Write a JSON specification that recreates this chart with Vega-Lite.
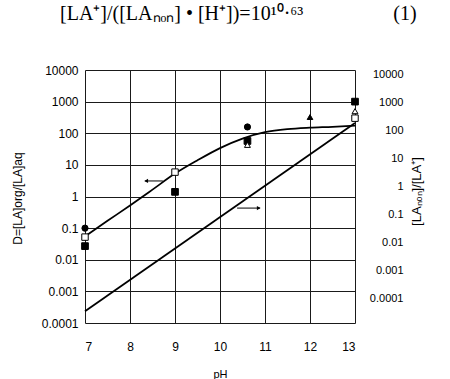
{
  "$schema": "https://vega.github.io/schema/vega-lite/v6.json",
  "width": 270,
  "height": 253,
  "autosize": "none",
  "padding": {"left": 85, "top": 70, "right": 95, "bottom": 56},
  "background": "white",
  "config": {"view": {"stroke": null}, "font": "Liberation Sans"},
  "title": {
    "text": "[LA⁺]/([LAₙₒₙ] • [H⁺])=10¹⁰·⁶³\u00a0\u00a0\u00a0\u00a0\u00a0\u00a0\u00a0\u00a0\u00a0\u00a0\u00a0\u00a0\u00a0\u00a0\u00a0\u00a0\u00a0\u00a0(1)",
    "font": "Liberation Serif",
    "fontSize": 20,
    "fontWeight": "normal",
    "anchor": "start",
    "frame": "group",
    "dx": -25,
    "offset": 24,
    "baseline": "alphabetic",
    "color": "black"
  },
  "datasets": {
    "curve": [
      {"pH": 7, "value": 0.055},
      {"pH": 7.5, "value": 0.17},
      {"pH": 8, "value": 0.52},
      {"pH": 8.5, "value": 1.65},
      {"pH": 9, "value": 5.3},
      {"pH": 9.5, "value": 14},
      {"pH": 10, "value": 34},
      {"pH": 10.5, "value": 68},
      {"pH": 11, "value": 108},
      {"pH": 11.5, "value": 135},
      {"pH": 12, "value": 150},
      {"pH": 12.5, "value": 160},
      {"pH": 13, "value": 175}
    ],
    "ratio": [
      {"pH": 7, "ratio": 0.0000345},
      {"pH": 13, "ratio": 189}
    ],
    "points": [
      {"pH": 7, "value": 0.1, "series": "filled circle"},
      {"pH": 10.61, "value": 158, "series": "filled circle"},
      {"pH": 7, "value": 0.052, "series": "open square"},
      {"pH": 9, "value": 5.9, "series": "open square"},
      {"pH": 13, "value": 300, "series": "open square"},
      {"pH": 7, "value": 0.027, "series": "filled square"},
      {"pH": 9, "value": 1.4, "series": "filled square"},
      {"pH": 10.61, "value": 57, "series": "filled square"},
      {"pH": 13, "value": 1000, "series": "filled square"},
      {"pH": 10.61, "value": 43, "series": "open triangle"},
      {"pH": 13, "value": 500, "series": "open triangle"},
      {"pH": 12, "value": 325, "series": "filled triangle"}
    ],
    "arrows": [
      {"pH": 8.33, "pH2": 8.73, "value": 3.1, "dir": "left"},
      {"pH": 10.38, "pH2": 10.89, "value": 0.43, "dir": "right"}
    ],
    "heads": [
      {"pH": 8.36, "value": 3.1, "dir": "left"},
      {"pH": 10.86, "value": 0.43, "dir": "right"}
    ]
  },
  "encoding": {
    "x": {
      "field": "pH",
      "type": "quantitative",
      "scale": {"domain": [7, 13], "nice": false, "zero": false},
      "axis": {
        "values": [7, 8, 9, 10, 11, 12, 13],
        "title": "pH",
        "grid": true,
        "gridColor": "#1a1a1a",
        "gridOpacity": 1,
        "gridWidth": 1,
        "ticks": false,
        "domain": false,
        "labelPadding": 18,
        "labelFontSize": 12,
        "labelColor": "black",
        "titleFontSize": 11,
        "titleFontWeight": "normal",
        "titleColor": "black",
        "titleY": 51,
        "titleBaseline": "middle"
      }
    }
  },
  "layer": [
    {
      "encoding": {
        "y": {
          "field": "value",
          "type": "quantitative",
          "scale": {"type": "log", "domain": [0.0001, 10000], "nice": false},
          "axis": {
            "values": [0.0001, 0.001, 0.01, 0.1, 1, 10, 100, 1000, 10000],
            "format": "~g",
            "title": "D=[LA]org/[LA]aq",
            "grid": true,
            "gridColor": "#1a1a1a",
            "gridOpacity": 1,
            "gridWidth": 1,
            "ticks": false,
            "domain": false,
            "labelPadding": 7,
            "labelFontSize": 12,
            "labelColor": "black",
            "titleFontSize": 12,
            "titleFontWeight": "normal",
            "titleColor": "black",
            "titleX": -68,
            "titleY": 128,
            "titleAngle": 270,
            "titleAlign": "center",
            "titleBaseline": "middle"
          }
        }
      },
      "layer": [
        {
          "data": {"name": "curve"},
          "mark": {"type": "line", "color": "black", "strokeWidth": 1.8, "interpolate": "monotone"}
        },
        {
          "data": {"name": "arrows"},
          "mark": {"type": "rule", "color": "black", "strokeWidth": 1},
          "encoding": {"x2": {"field": "pH2"}}
        },
        {
          "data": {"name": "heads"},
          "transform": [{"filter": "datum.dir === 'left'"}],
          "mark": {"type": "point", "shape": "triangle-left", "filled": true, "color": "black", "opacity": 1, "size": 18}
        },
        {
          "data": {"name": "heads"},
          "transform": [{"filter": "datum.dir === 'right'"}],
          "mark": {"type": "point", "shape": "triangle-right", "filled": true, "color": "black", "opacity": 1, "size": 18}
        },
        {
          "data": {"name": "points"},
          "mark": {"type": "point", "filled": true, "stroke": "black", "strokeWidth": 1, "opacity": 1},
          "encoding": {
            "shape": {
              "field": "series",
              "type": "nominal",
              "scale": {
                "domain": ["filled square", "open square", "filled circle", "open triangle", "filled triangle"],
                "range": ["square", "square", "circle", "triangle-up", "triangle-up"]
              },
              "legend": null
            },
            "fill": {
              "field": "series",
              "type": "nominal",
              "scale": {
                "domain": ["filled square", "open square", "filled circle", "open triangle", "filled triangle"],
                "range": ["black", "white", "black", "white", "black"]
              },
              "legend": null
            },
            "size": {
              "field": "series",
              "type": "nominal",
              "scale": {
                "domain": ["filled square", "open square", "filled circle", "open triangle", "filled triangle"],
                "range": [45, 32, 16, 30, 36]
              },
              "legend": null
            }
          }
        }
      ]
    },
    {
      "data": {"name": "ratio"},
      "mark": {"type": "line", "color": "black", "strokeWidth": 1.8},
      "encoding": {
        "y": {
          "field": "ratio",
          "type": "quantitative",
          "scale": {"type": "log", "domain": [0.000013, 15000], "nice": false},
          "axis": {
            "orient": "right",
            "values": [0.0001, 0.001, 0.01, 0.1, 1, 10, 100, 1000, 10000],
            "format": "~g",
            "title": "[LAₙₒₙ]/[LA⁺]",
            "grid": false,
            "ticks": false,
            "domain": false,
            "labelAlign": "right",
            "labelPadding": 48,
            "labelFontSize": 11,
            "labelColor": "black",
            "titleFontSize": 13,
            "titleFontWeight": "normal",
            "titleColor": "black",
            "titleX": 61,
            "titleY": 121,
            "titleAngle": 270,
            "titleAlign": "center",
            "titleBaseline": "middle"
          }
        }
      }
    }
  ],
  "resolve": {"scale": {"y": "independent"}, "axis": {"y": "independent"}}
}
